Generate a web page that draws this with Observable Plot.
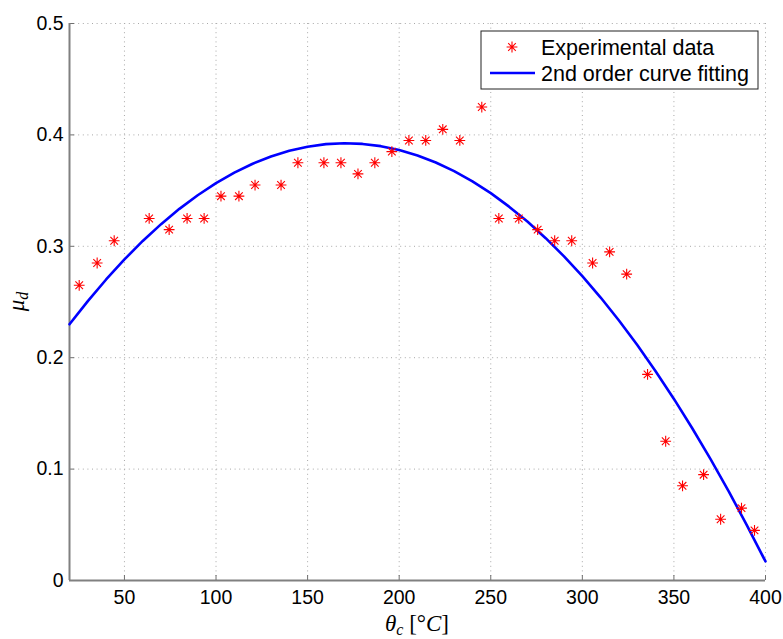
<!DOCTYPE html>
<html>
<head>
<meta charset="utf-8">
<script src="https://cdn.jsdelivr.net/npm/d3@7"></script>
<script src="https://cdn.jsdelivr.net/npm/@observablehq/plot@0.6"></script>
<style>
  html, body { margin: 0; padding: 0; background: #fff; }
  #chart { position: relative; width: 783px; height: 639px; }
</style>
</head>
<body>
<div id="chart"></div>
<script>
// ---- data ----
const tempData = [25.3, 35.1, 44.4, 63.5, 74.4, 84.2, 93.5, 102.7, 112.5, 121.3, 135.5, 144.7, 158.9, 168.2, 177.5, 186.7, 196.0, 205.3, 214.5, 223.8, 233.1, 245.1, 254.4, 265.3, 275.6, 284.9, 294.2, 305.6, 314.9, 324.2, 335.6, 345.5, 354.7, 366.2, 375.5, 386.9, 394.0];
const muData = [0.265, 0.285, 0.305, 0.325, 0.315, 0.325, 0.325, 0.345, 0.345, 0.355, 0.355, 0.375, 0.375, 0.375, 0.365, 0.375, 0.385, 0.395, 0.395, 0.405, 0.395, 0.425, 0.325, 0.325, 0.315, 0.305, 0.305, 0.285, 0.295, 0.275, 0.185, 0.125, 0.085, 0.095, 0.055, 0.065, 0.045];

const curveTemp = [20, 30, 40, 50, 60, 70, 80, 90, 100, 110, 120, 130, 140, 150, 160, 170, 180, 190, 200, 210, 220, 230, 240, 250, 260, 270, 280, 290, 300, 310, 320, 330, 340, 350, 360, 370, 380, 390, 400];
const curveMu = [0.2300, 0.2508, 0.2702, 0.2882, 0.3048, 0.3199, 0.3336, 0.3458, 0.3567, 0.3661, 0.3741, 0.3806, 0.3857, 0.3894, 0.3917, 0.3925, 0.3919, 0.3899, 0.3864, 0.3815, 0.3752, 0.3675, 0.3583, 0.3477, 0.3356, 0.3222, 0.3073, 0.2910, 0.2732, 0.2540, 0.2334, 0.2114, 0.1879, 0.1630, 0.1367, 0.1089, 0.0798, 0.0491, 0.0171];

const xTicks = [50, 100, 150, 200, 250, 300, 350, 400];
const yTicks = [0, 0.1, 0.2, 0.3, 0.4, 0.5];
const xDomain = [20, 400];
const yDomain = [0, 0.5];
const seriesNames = ["Experimental data", "2nd order curve fitting"];

// ---- tables built from the arrays ----
const points = tempData.map((t, i) => ({t, mu: muData[i]}));
const curve = curveTemp.map((t, i) => ({t, mu: curveMu[i]}));

// MATLAB-style 8-spoke asterisk marker
const star = {
  draw(ctx, size) {
    const r = Math.sqrt(size / Math.PI);
    const d = r * Math.SQRT1_2;
    ctx.moveTo(-r, 0); ctx.lineTo(r, 0);
    ctx.moveTo(0, -r); ctx.lineTo(0, r);
    ctx.moveTo(-d, -d); ctx.lineTo(d, d);
    ctx.moveTo(-d, d); ctx.lineTo(d, -d);
  }
};

const font = "'Liberation Sans', Arial, Helvetica, sans-serif";
const gridStyle = {stroke: "#a8a8a8", strokeOpacity: 1, strokeWidth: 1, strokeDasharray: "1,3.6"};

const plot = Plot.plot({
  width: 783,
  height: 639,
  marginLeft: 69,
  marginRight: 18,
  marginTop: 23,
  marginBottom: 59,
  style: {fontFamily: font, fontSize: "19.5px", color: "#000", background: "#fff"},
  x: {domain: xDomain},
  y: {domain: yDomain},
  marks: [
    Plot.gridX(xTicks, gridStyle),
    Plot.gridY(yTicks.filter(d => d > 0), gridStyle),
    // inward tick marks
    Plot.axisX(xTicks, {tickSize: 5, dy: -5, tickFormat: () => "", label: null, stroke: "#6f6f6f"}),
    Plot.axisY(yTicks, {tickSize: 5, dx: 5, tickFormat: () => "", label: null, stroke: "#6f6f6f"}),
    // tick labels
    Plot.axisX(xTicks, {tickSize: 0, tickPadding: 10, label: null, fill: "#000", fontSize: 19.5}),
    Plot.axisY(yTicks, {tickSize: 0, tickPadding: 6, label: null, fill: "#000", fontSize: 19.5,
      tickFormat: d => d === 0 ? "0" : d.toFixed(1)}),
    // axis lines
    Plot.ruleY([yDomain[0]], {stroke: "#808080", strokeWidth: 2}),
    Plot.ruleX([xDomain[0]], {stroke: "#808080", strokeWidth: 2}),
    // data
    Plot.line(curve, {x: "t", y: "mu", stroke: "#0000ff", strokeWidth: 2.6}),
    Plot.dot(points, {x: "t", y: "mu", symbol: star, r: 5.4, stroke: "#ff0000", fill: "none", strokeWidth: 1.1})
  ]
});

document.getElementById("chart").appendChild(plot);

// ---- axis labels (LaTeX-like) ----
const svg = d3.select(plot);
const sx = plot.scale("x"), sy = plot.scale("y");
const cx = (sx.range[0] + sx.range[1]) / 2;
const cy = (sy.range[0] + sy.range[1]) / 2;
const serif = "'Liberation Serif', 'DejaVu Serif', serif";

const xl = svg.append("text")
  .attr("x", cx).attr("y", 631)
  .attr("text-anchor", "middle")
  .attr("font-family", serif).attr("font-size", 23).attr("fill", "#000");
xl.append("tspan").attr("font-style", "italic").text("θ");
xl.append("tspan").attr("font-style", "italic").attr("font-size", 16).attr("dy", 4).text("c");
xl.append("tspan").attr("dy", -4).text(" [°");
xl.append("tspan").attr("font-style", "italic").text("C");
xl.append("tspan").text("]");

const yl = svg.append("text")
  .attr("transform", `translate(24,${cy}) rotate(-90)`)
  .attr("text-anchor", "middle")
  .attr("font-family", serif).attr("font-size", 23).attr("fill", "#000");
yl.append("tspan").attr("font-style", "italic").text("μ");
yl.append("tspan").attr("font-style", "italic").attr("font-size", 16).attr("dy", 4).text("d");

// ---- legend ----
const lg = svg.append("g").attr("transform", "translate(481,31)");
lg.append("rect").attr("width", 277).attr("height", 58)
  .attr("fill", "#fff").attr("stroke", "#222").attr("stroke-width", 1);
const starPath = d3.symbol(star, Math.PI * 5.4 * 5.4)();
lg.append("path").attr("d", starPath).attr("transform", "translate(31,16)")
  .attr("fill", "none").attr("stroke", "#ff0000").attr("stroke-width", 1.1);
lg.append("line").attr("x1", 9).attr("x2", 54).attr("y1", 42).attr("y2", 42)
  .attr("stroke", "#0000ff").attr("stroke-width", 2.6);
lg.append("text").attr("x", 60).attr("y", 16).attr("dy", "0.36em")
  .attr("text-anchor", "start")
  .attr("font-family", font).attr("font-size", 21.5).attr("fill", "#000").text(seriesNames[0]);
lg.append("text").attr("x", 60).attr("y", 42).attr("dy", "0.36em")
  .attr("text-anchor", "start")
  .attr("font-family", font).attr("font-size", 21.5).attr("fill", "#000").text(seriesNames[1]);
</script>
</body>
</html>
